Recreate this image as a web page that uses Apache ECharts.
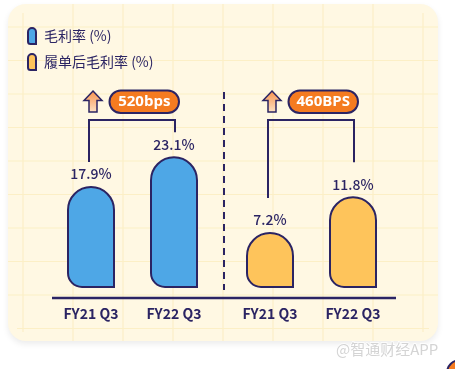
<!DOCTYPE html>
<html><head><meta charset="utf-8">
<script src="https://cdn.jsdelivr.net/npm/echarts@6/dist/echarts.min.js"></script>
<style>html,body{margin:0;padding:0;background:#fff}#c{width:455px;height:369px}</style>
</head><body><div id="c"></div>
<script>
const categories = ['FY21 Q3', 'FY22 Q3'];
const grossMargin = [17.9, 23.1];
const fulfilledMargin = [7.2, 11.8];
const seriesNames = ['毛利率 (%)', '履单后毛利率 (%)'];
const badgeTexts = ['520bps', '460BPS'];
const watermark = '@智通财经APP';

const NAVY = '#2b2463', BLUE = '#4ea7e6', YEL = '#fec45b', ORANGE = '#f47b20', BG = '#fff8e3', GRIDC = '#fcefc6';
const FONT = '"Noto Sans CJK SC", "Noto Sans", sans-serif';

const chart = echarts.init(document.getElementById('c'), null, {renderer: 'canvas'});

const barIcon = 'path://M0,4 A4,4 0 0 1 8,4 L8,16 L2.5,16 A2.5,2.5 0 0 1 0,13.5 Z';

function xAx(i) {
  return {
    type: 'category', gridIndex: i, data: categories,
    axisLine: {show: false}, axisTick: {show: false},
    axisLabel: {margin: 19, color: NAVY, fontSize: 14, fontWeight: 'bold', fontFamily: FONT}
  };
}
function yAx(i, max) {
  return {type: 'value', gridIndex: i, min: 0, max: max, show: false, splitLine: {show: false}};
}
function barSeries(i, name, data, color) {
  return {
    type: 'bar', name: name, xAxisIndex: i, yAxisIndex: i, data: data,
    barWidth: 48, z: 5,
    itemStyle: {color: color, borderColor: NAVY, borderWidth: 2, borderRadius: [24, 24, 0, 14]},
    label: {show: true, position: 'top', distance: 5, formatter: '{c}%', color: NAVY, fontSize: 14, fontFamily: FONT, fontWeight: 500}
  };
}

// decorative background
const bgEls = [];
bgEls.push({type: 'rect', z: -10, shape: {x: 8, y: 4, width: 430, height: 337, r: 18},
  style: {fill: BG, shadowBlur: 6, shadowColor: 'rgba(0,0,0,0.08)', shadowOffsetY: 3}});
for (let k = 0; k < 9; k++) {
  const x = 23 + 50 * k;
  const inset = (x < 26 || x > 420) ? 9 : 0;
  bgEls.push({type: 'line', z: -9, shape: {x1: x, y1: 4 + inset, x2: x, y2: 341 - inset}, style: {stroke: GRIDC, lineWidth: 1.2}});
}
for (let k = 0; k < 10; k++) {
  const y = 27 + 33.5 * k;
  const inset = (y < 22 || y > 323) ? 9 : 0;
  bgEls.push({type: 'line', z: -9, shape: {x1: 8 + inset, y1: y, x2: 438 - inset, y2: y}, style: {stroke: GRIDC, lineWidth: 1.2}});
}

const option = {
  animation: false,
  backgroundColor: '#fff',
  legend: {
    left: 27, top: 27, orient: 'vertical', itemGap: 8, itemWidth: 8, itemHeight: 16, padding: 0,
    selectedMode: false, icon: barIcon,
    data: seriesNames,
    textStyle: {color: NAVY, fontSize: 14, fontFamily: FONT, padding: [0, 0, 0, 3]}
  },
  grid: [
    {left: 49.5, width: 166, top: 117, height: 171},
    {left: 228.5, width: 166, top: 117, height: 171}
  ],
  xAxis: [xAx(0), xAx(1)],
  yAxis: [yAx(0, 30), yAx(1, 22)],
  series: [
    barSeries(0, seriesNames[0], grossMargin, BLUE),
    barSeries(1, seriesNames[1], fulfilledMargin, YEL)
  ],
  graphic: {elements: bgEls}
};
chart.setOption(option);

// annotations computed from the chart's scales
const els = bgEls.slice();
els.push({type: 'line', z: 3, shape: {x1: 52, y1: 298, x2: 396, y2: 298}, style: {stroke: NAVY, lineWidth: 2.5}});
els.push({type: 'line', z: 3, shape: {x1: 224, y1: 92, x2: 224, y2: 290}, style: {stroke: NAVY, lineWidth: 2, lineDash: [7, 5]}});

const groups = [grossMargin, fulfilledMargin];
const gaps = [24, 34];
groups.forEach((vals, si) => {
  const pL = chart.convertToPixel({seriesIndex: si}, [0, vals[0]]);
  const pR = chart.convertToPixel({seriesIndex: si}, [1, vals[1]]);
  const xl = pL[0] - 2, xr = pR[0] + 1, yTop = 120;
  els.push({type: 'polyline', z: 4, shape: {points: [[xl, pL[1] - gaps[si]], [xl, yTop], [xr, yTop], [xr, pR[1] - gaps[si]]]},
    style: {stroke: NAVY, lineWidth: 2, fill: null}});
  const cx = xl + 4;
  els.push({type: 'polygon', z: 10, shape: {points: [[cx, 91], [cx + 9, 100.5], [cx + 4, 100.5], [cx + 4, 112], [cx - 4, 112], [cx - 4, 100.5], [cx - 9, 100.5]]},
    style: {fill: new echarts.graphic.LinearGradient(0, 0, 0, 1, [{offset: 0, color: '#f7904a'}, {offset: 1, color: '#fde3c6'}]), stroke: NAVY, lineWidth: 1.5}});
  const bx = cx + 16.5;
  els.push({type: 'rect', z: 10, shape: {x: bx, y: 90.5, width: 69.5, height: 22.5, r: 11.25},
    style: {fill: ORANGE, stroke: NAVY, lineWidth: 2}});
  els.push({type: 'text', z: 11, x: bx + 34.75, y: 102,
    style: {text: badgeTexts[si], fill: '#fff', font: 'bold 15px "Open Sans", "Noto Sans", sans-serif', align: 'center', verticalAlign: 'middle'}});
});

els.push({type: 'text', z: 12, x: 336, y: 349,
  style: {text: watermark, fill: '#d4d4d4', stroke: '#fff', lineWidth: 1.5, font: '15px ' + FONT, verticalAlign: 'middle'}});
els.push({type: 'circle', z: 12, shape: {cx: 460, cy: 373, r: 13}, style: {fill: ORANGE, stroke: NAVY, lineWidth: 2}});

chart.setOption({graphic: {elements: els}}, {replaceMerge: ['graphic']});
</script>
</body></html>
